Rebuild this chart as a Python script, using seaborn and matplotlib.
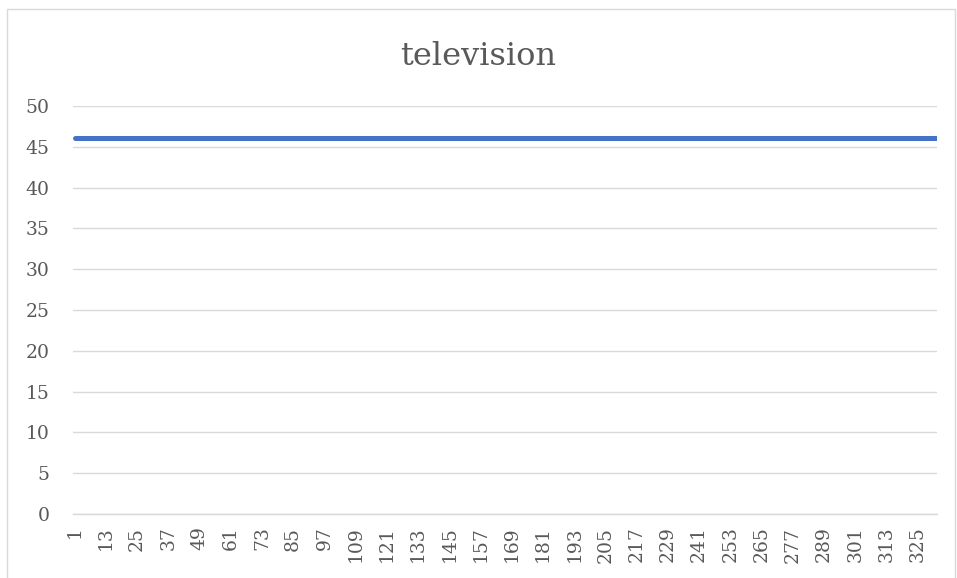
import matplotlib
matplotlib.use("Agg")
import matplotlib.pyplot as plt
import seaborn as sns
import numpy as np
import pandas as pd
from matplotlib.patches import Rectangle

# Data
title = "television"
n_points = 332
x_values = list(range(1, n_points + 1))
y_values = [46.1] * n_points
x_tick_labels = list(range(1, n_points + 1, 12))
y_ticks = [0, 5, 10, 15, 20, 25, 30, 35, 40, 45, 50]

df = pd.DataFrame({"x": x_values, "y": y_values})

sns.set_theme(style="white")
plt.rcParams["font.family"] = ["DejaVu Serif"]

text_color = "#595959"
grid_color = "#d9d9d9"

fig = plt.figure(figsize=(9.57, 5.78), dpi=100)
ax = fig.add_axes([0.0766, 0.1107, 0.9794 - 0.0766, 0.8166 - 0.1107])

# chart border
fig.patches.append(Rectangle((7 / 957, -0.01), 948 / 957, 1 - 9 / 578 + 0.01,
                             transform=fig.transFigure, fill=False,
                             edgecolor=grid_color, linewidth=1.0))

sns.lineplot(data=df, x="x", y="y", ax=ax, color="#4472C4", linewidth=3.6,
             solid_capstyle="round", legend=False)

ax.set_xlim(0.5, n_points + 0.5)
ax.set_ylim(0, 50)
ax.set_yticks(y_ticks)
ax.set_yticklabels([str(v) for v in y_ticks], fontsize=13.5, color=text_color)
ax.set_xticks(x_tick_labels)
ax.set_xticklabels([str(v) for v in x_tick_labels], rotation=90, fontsize=13.5,
                   color=text_color)
ax.tick_params(axis="both", length=0)
ax.tick_params(axis="x", pad=9)
ax.tick_params(axis="y", pad=17)
ax.set_xlabel("")
ax.set_ylabel("")
ax.grid(axis="y", color=grid_color, linewidth=1.0)
ax.grid(axis="x", visible=False)
ax.set_axisbelow(True)
for s in ["top", "right", "left"]:
    ax.spines[s].set_visible(False)
ax.spines["bottom"].set_color(grid_color)
ax.spines["bottom"].set_linewidth(1.0)

fig.text(0.5, 0.902, title, ha="center", va="center", fontsize=23, color=text_color)

fig.savefig("out.png", dpi=100, facecolor="white")
